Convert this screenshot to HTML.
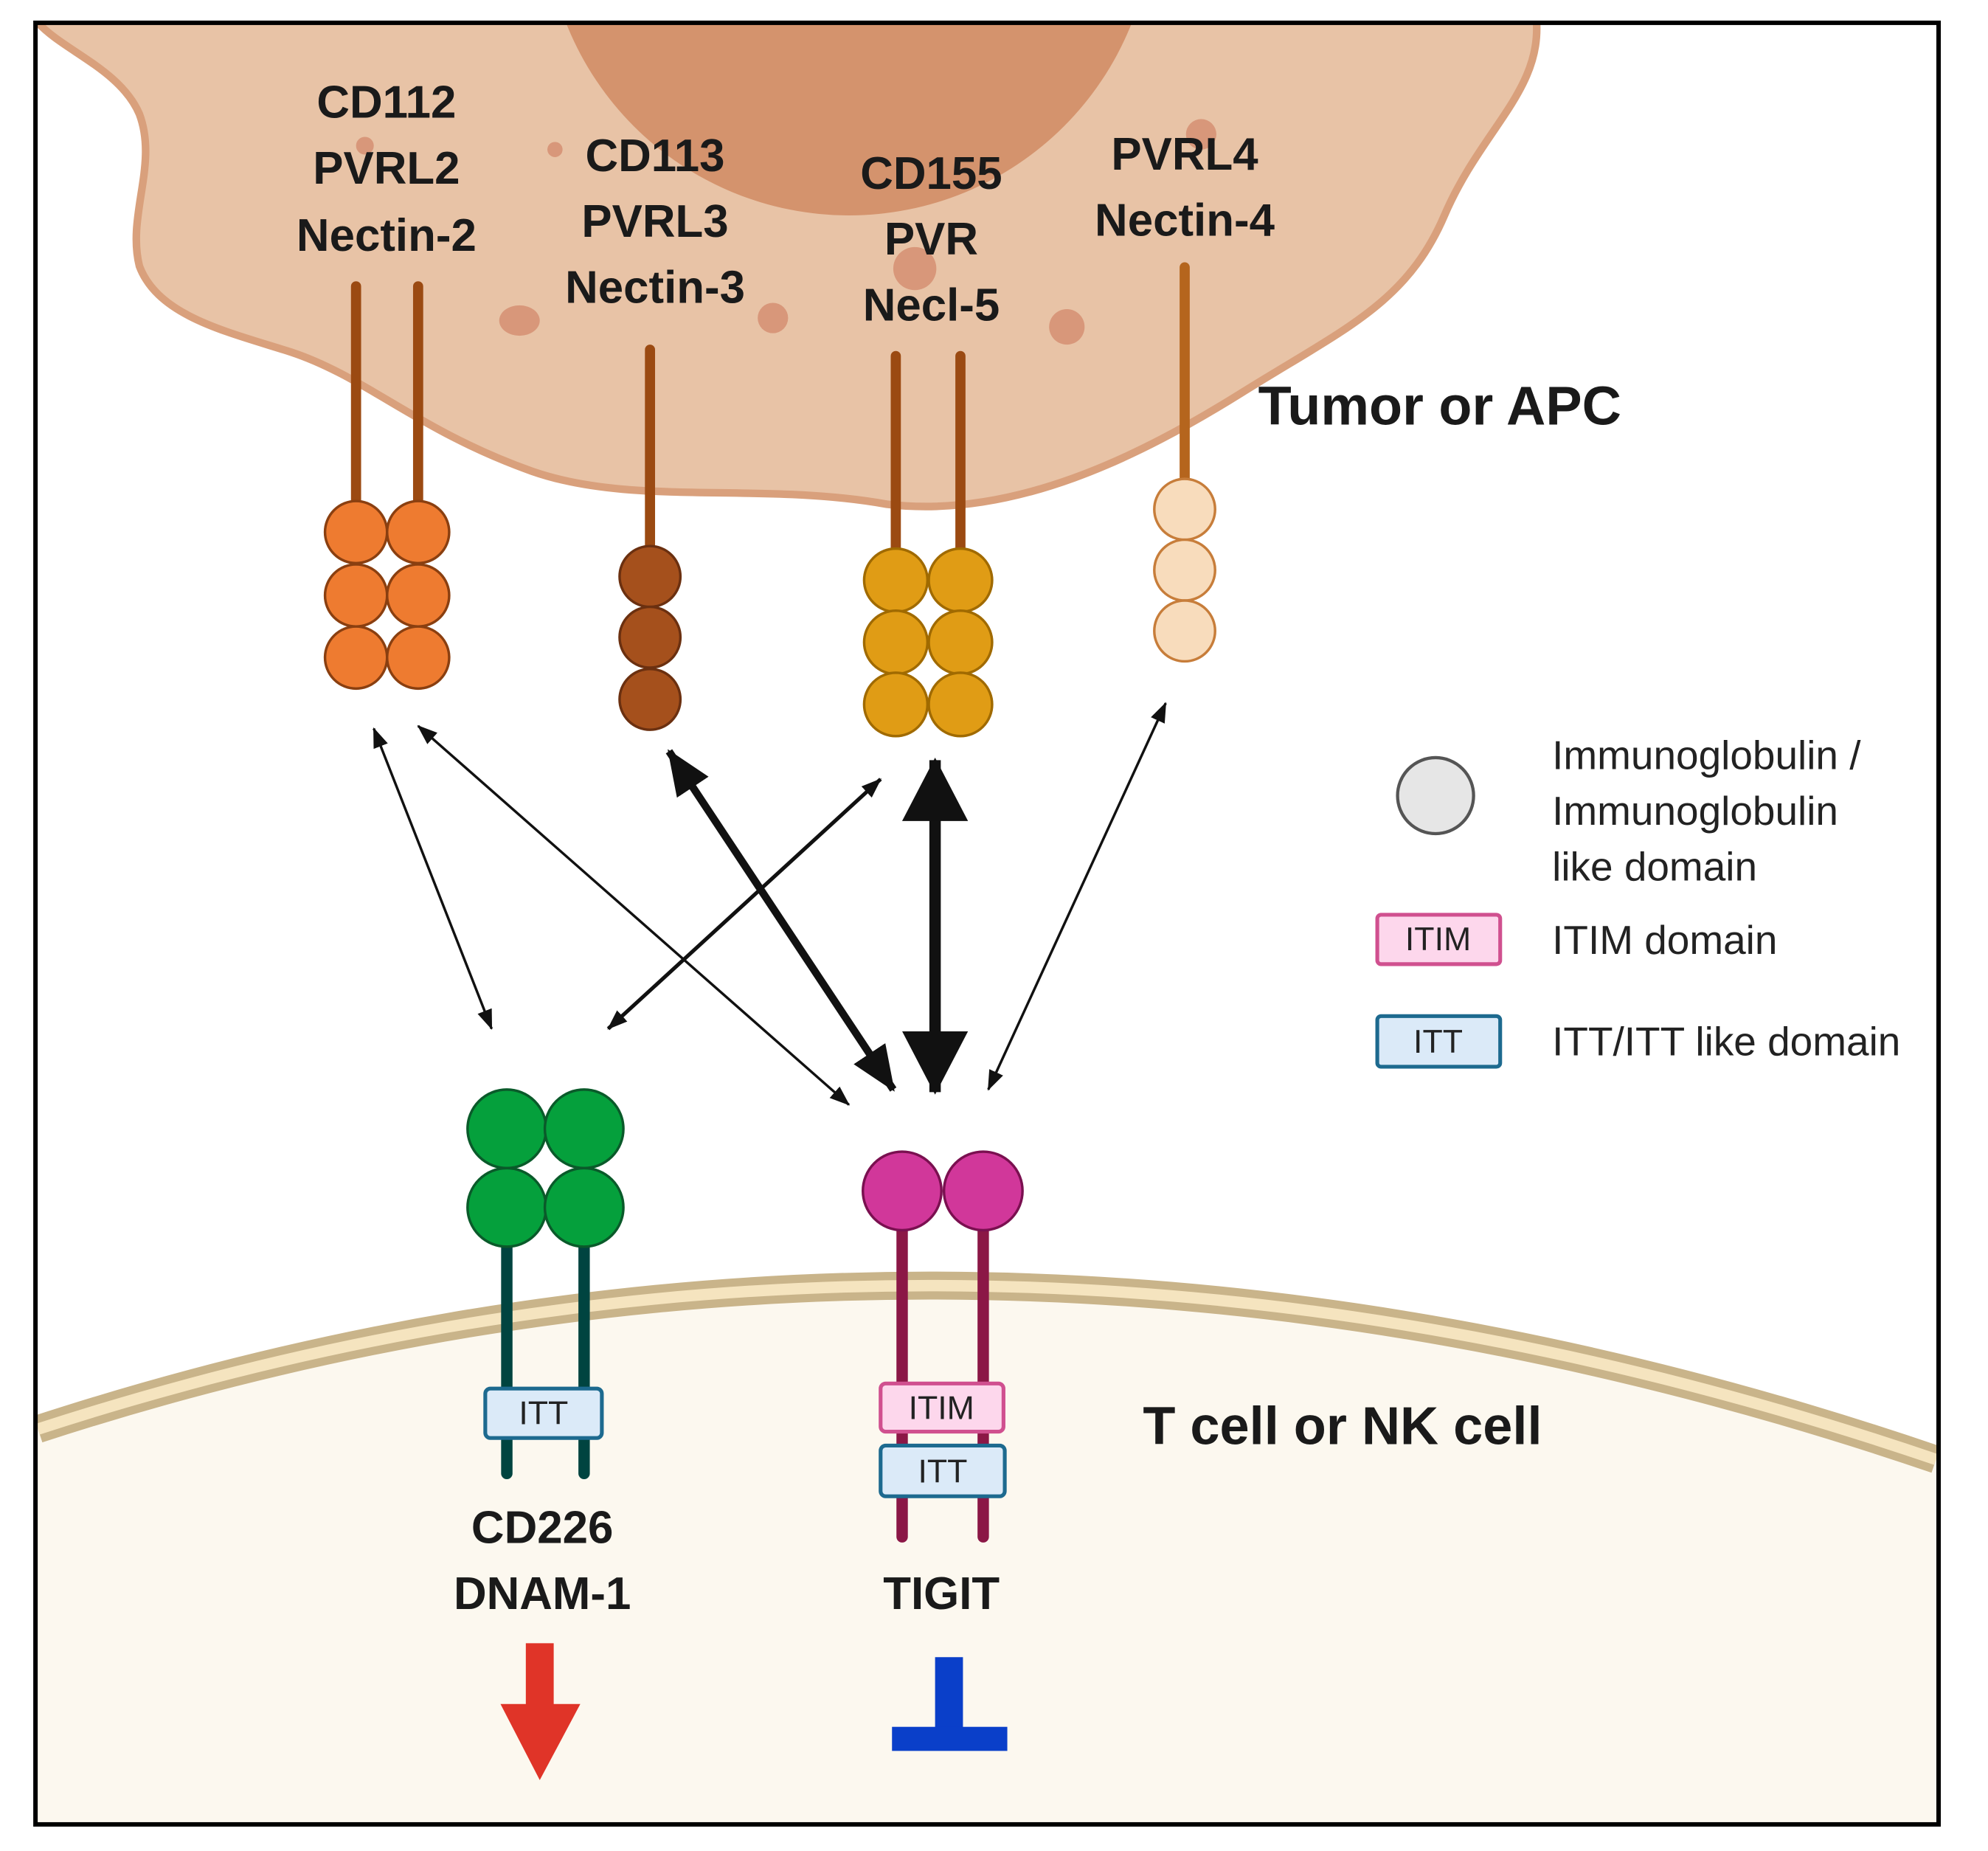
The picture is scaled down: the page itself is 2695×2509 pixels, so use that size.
<!DOCTYPE html>
<html><head><meta charset="utf-8"><style>
html,body{margin:0;padding:0;background:#fff}
svg{display:block}
text{font-family:"Liberation Sans",sans-serif}
</style></head><body>
<svg width="2695" height="2509" viewBox="0 0 1569 1461" preserveAspectRatio="none" xmlns="http://www.w3.org/2000/svg">
<defs>
<clipPath id="fr"><rect x="28" y="18" width="1502" height="1422"/></clipPath>
<marker id="mt" markerUnits="userSpaceOnUse" viewBox="0 0 16 12" refX="15" refY="6" markerWidth="16" markerHeight="12" orient="auto-start-reverse"><path d="M0,0 L16,6 L0,12 Z" fill="#111"/></marker>
<marker id="mm" markerUnits="userSpaceOnUse" viewBox="0 0 36 30" refX="34" refY="15" markerWidth="36" markerHeight="30" orient="auto-start-reverse"><path d="M0,0 L36,15 L0,30 Z" fill="#111"/></marker>
<marker id="mb" markerUnits="userSpaceOnUse" viewBox="0 0 50 52" refX="48" refY="26" markerWidth="50" markerHeight="52" orient="auto-start-reverse"><path d="M0,0 L50,26 L0,52 Z" fill="#111"/></marker>
</defs>
<rect x="0" y="0" width="1569" height="1461" fill="#fff"/>
<g clip-path="url(#fr)">
<path d="M20,10 L30,18 C50,40 95,55 110,90 C125,130 100,170 110,210 C125,250 180,262 230,278 C290,298 330,340 420,372 C500,400 600,380 700,398 C800,410 900,360 980,310 C1060,260 1110,240 1140,170 C1170,100 1220,70 1212,10 Z" fill="#e8c3a6" stroke="#d9a07c" stroke-width="6"/>
<circle cx="670" cy="-70" r="240" fill="#d4936d"/>
<g fill="#d8977a">
<circle cx="288" cy="115" r="7"/><circle cx="438" cy="118" r="6"/>
<ellipse cx="410" cy="253" rx="16" ry="12"/><circle cx="610" cy="251" r="12"/>
<circle cx="722" cy="212" r="17"/><circle cx="842" cy="258" r="14"/><circle cx="948" cy="106" r="12"/>
</g>
<path d="M0,1140 L30,1128 Q760,890 1528,1152 L1560,1165 L1560,1470 L0,1470 Z" fill="#fcf8ef"/>
<path d="M30,1128 Q760,890 1528,1152" fill="none" stroke="#c9b48a" stroke-width="22"/>
<path d="M30,1128 Q760,890 1528,1152" fill="none" stroke="#f5e4bf" stroke-width="9"/>
</g>
<rect x="28" y="18" width="1502" height="1422" fill="none" stroke="#000" stroke-width="3.5"/>

<g font-weight="bold" font-size="36" fill="#1a1a1a" text-anchor="middle">
<text x="305" y="93">CD112</text><text x="305" y="145">PVRL2</text><text x="305" y="198">Nectin-2</text>
<text x="517" y="135">CD113</text><text x="517" y="187">PVRL3</text><text x="517" y="239">Nectin-3</text>
<text x="735" y="149">CD155</text><text x="735" y="201">PVR</text><text x="735" y="253">Necl-5</text>
<text x="935" y="134">PVRL4</text><text x="935" y="186">Nectin-4</text>
</g>
<text x="993" y="335" font-weight="bold" font-size="43" fill="#1a1a1a">Tumor or APC</text>
<text x="902" y="1140" font-weight="bold" font-size="42" fill="#1a1a1a">T cell or NK cell</text>

<g stroke="#9b4a12" stroke-width="8" stroke-linecap="round"><line x1="281" y1="226" x2="281" y2="400"/><line x1="330" y1="226" x2="330" y2="400"/></g>
<g fill="#ee7b30" stroke="#8a3f10" stroke-width="2">
<circle cx="281" cy="420" r="24.5"/><circle cx="330" cy="420" r="24.5"/>
<circle cx="281" cy="470" r="24.5"/><circle cx="330" cy="470" r="24.5"/>
<circle cx="281" cy="519" r="24.5"/><circle cx="330" cy="519" r="24.5"/></g>
<line x1="513" y1="276" x2="513" y2="435" stroke="#9b4a12" stroke-width="8" stroke-linecap="round"/>
<g fill="#a5501c" stroke="#6b3010" stroke-width="2">
<circle cx="513" cy="455" r="24"/><circle cx="513" cy="503" r="24"/><circle cx="513" cy="552" r="24"/></g>
<g stroke="#9b4a12" stroke-width="8" stroke-linecap="round"><line x1="707" y1="281" x2="707" y2="440"/><line x1="758" y1="281" x2="758" y2="440"/></g>
<g fill="#e09c15" stroke="#a06a00" stroke-width="2">
<circle cx="707" cy="458" r="25"/><circle cx="758" cy="458" r="25"/>
<circle cx="707" cy="507" r="25"/><circle cx="758" cy="507" r="25"/>
<circle cx="707" cy="556" r="25"/><circle cx="758" cy="556" r="25"/></g>
<line x1="935" y1="211" x2="935" y2="380" stroke="#b5651d" stroke-width="8" stroke-linecap="round"/>
<g fill="#f8dcbc" stroke="#c77d3a" stroke-width="2">
<circle cx="935" cy="402" r="24"/><circle cx="935" cy="450" r="24"/><circle cx="935" cy="498" r="24"/></g>

<g fill="none" stroke="#111">
<line x1="295" y1="575" x2="388" y2="812" stroke-width="2" marker-start="url(#mt)" marker-end="url(#mt)"/>
<line x1="330" y1="573" x2="670" y2="872" stroke-width="2" marker-start="url(#mt)" marker-end="url(#mt)"/>
<line x1="695" y1="615" x2="480" y2="812" stroke-width="3" marker-start="url(#mt)" marker-end="url(#mt)"/>
<line x1="920" y1="555" x2="780" y2="860" stroke-width="2" marker-start="url(#mt)" marker-end="url(#mt)"/>
<line x1="528" y1="593" x2="705" y2="860" stroke-width="6" marker-start="url(#mm)" marker-end="url(#mm)"/>
<line x1="738" y1="600" x2="738" y2="862" stroke-width="9" marker-start="url(#mb)" marker-end="url(#mb)"/>
</g>

<g stroke="#004440" stroke-width="9" stroke-linecap="round"><line x1="400" y1="975" x2="400" y2="1163"/><line x1="461" y1="975" x2="461" y2="1163"/></g>
<g fill="#05a03c" stroke="#0a5a2a" stroke-width="2">
<circle cx="400" cy="891" r="31"/><circle cx="461" cy="891" r="31"/>
<circle cx="400" cy="953" r="31"/><circle cx="461" cy="953" r="31"/></g>
<rect x="383" y="1096" width="92" height="39" rx="4" fill="#dbeaf8" stroke="#1d6a8f" stroke-width="3"/>
<text x="429" y="1124" font-size="26" text-anchor="middle" fill="#222">ITT</text>
<g stroke="#8b1746" stroke-width="9" stroke-linecap="round"><line x1="712" y1="965" x2="712" y2="1213"/><line x1="776" y1="965" x2="776" y2="1213"/></g>
<g fill="#d1379a" stroke="#7a1050" stroke-width="2">
<circle cx="712" cy="940" r="31"/><circle cx="776" cy="940" r="31"/></g>
<rect x="695" y="1092" width="97" height="38" rx="4" fill="#fdd7ec" stroke="#d0508f" stroke-width="3"/>
<text x="743" y="1120" font-size="26" text-anchor="middle" fill="#222">ITIM</text>
<rect x="695" y="1141" width="98" height="40" rx="4" fill="#dbeaf8" stroke="#1d6a8f" stroke-width="3"/>
<text x="744" y="1170" font-size="26" text-anchor="middle" fill="#222">ITT</text>

<g font-weight="bold" font-size="36" fill="#1a1a1a" text-anchor="middle">
<text x="428" y="1218">CD226</text><text x="428" y="1270">DNAM-1</text><text x="743" y="1270">TIGIT</text></g>

<rect x="415" y="1297" width="22" height="50" fill="#e03428"/>
<path d="M395,1345 L458,1345 L426,1405 Z" fill="#e03428"/>
<rect x="738" y="1308" width="22" height="58" fill="#0a3fc9"/>
<rect x="704" y="1363" width="91" height="19" fill="#0a3fc9"/>

<circle cx="1133" cy="628" r="30" fill="#e6e6e6" stroke="#555" stroke-width="2.5"/>
<g font-size="32" fill="#222">
<text x="1225" y="607">Immunoglobulin /</text>
<text x="1225" y="651">Immunoglobulin</text>
<text x="1225" y="695">like domain</text>
<text x="1225" y="753">ITIM domain</text>
<text x="1225" y="833">ITT/ITT like domain</text>
</g>
<rect x="1087" y="722" width="97" height="39" rx="3" fill="#fdd7ec" stroke="#d0508f" stroke-width="3"/>
<text x="1135" y="750" font-size="26" text-anchor="middle" fill="#222">ITIM</text>
<rect x="1087" y="802" width="97" height="40" rx="3" fill="#dbeaf8" stroke="#1d6a8f" stroke-width="3"/>
<text x="1135" y="831" font-size="26" text-anchor="middle" fill="#222">ITT</text>
</svg>
</body></html>
